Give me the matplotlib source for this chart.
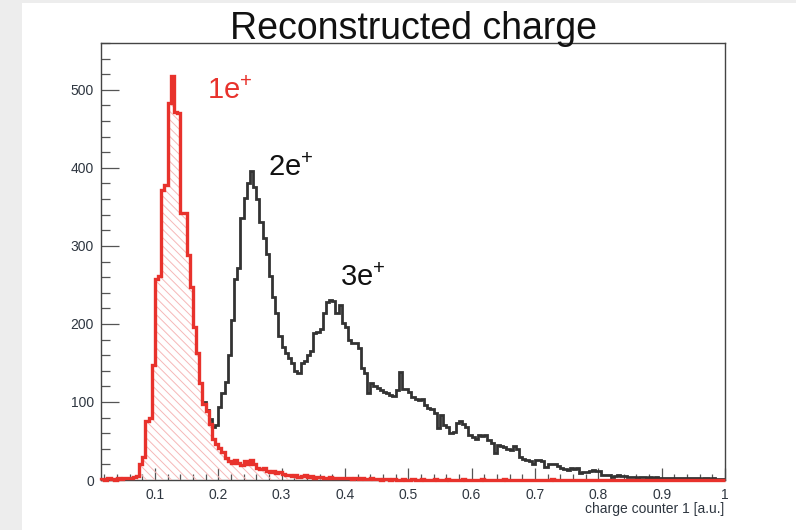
import numpy as np
import matplotlib
matplotlib.use("Agg")
import matplotlib.pyplot as plt
from matplotlib.patches import Rectangle
from matplotlib.ticker import FixedLocator, MultipleLocator

plt.rcParams['font.family'] = ['Liberation Sans', 'DejaVu Sans']
plt.rcParams['mathtext.fontset'] = 'custom'
plt.rcParams['mathtext.rm'] = 'Liberation Sans'
plt.rcParams['mathtext.it'] = 'Liberation Sans:italic'
plt.rcParams['hatch.linewidth'] = 0.7

# ---------------- data ----------------
bin_start = 0.015
bin_width = 0.005

# 1e+ sample (red, hatched)
red_counts = [
    1, 0, 2, 1, 0, 2, 1, 3, 2, 3, 4,
    5, 20, 30, 75, 80, 147, 258, 262, 372, 378,
    483, 518, 472, 470, 342, 342, 288, 247, 196, 163, 124,
    98, 88, 72, 52, 46, 41, 36, 28, 24, 22,
    26, 22, 19, 24, 21, 25, 20, 15, 14, 15,
    12, 10, 11, 9, 10, 8, 7, 6, 5, 6,
    4, 5, 6, 4, 5, 3, 4, 4, 3, 3,
    4, 2, 3, 2, 3, 2,
    2, 1, 2, 1, 2, 1, 1, 2, 1,
    1, 0, 1, 1, 0, 1, 0, 0, 1, 0,
    0, 1, 0, 0, 1, 0, 0, 0, 1, 0,
    0, 0, 1, 0, 0, 0, 0, 1, 0, 0,
    0, 0, 0, 1, 0, 0, 0, 0, 0, 0,
    1, 0, 0, 0, 0, 0, 0, 0, 0, 0,
    0, 0, 0, 0, 0, 1, 0, 0, 0, 0,
    0, 0, 0, 0, 0, 0, 0, 0, 0, 0,
    0, 0, 0, 0, 0, 0, 0, 0, 0, 0,
    0, 0, 0, 0, 0, 0, 0, 0, 0, 0,
    0, 0, 0, 0, 0, 0, 0, 0, 0, 0,
    0, 0, 0, 0, 0, 0, 0, 0, 0, 0,
]

# all events (black)
black_counts = [
    1, 0, 2, 1, 0, 2, 1, 3, 2, 3, 4,
    5, 20, 30, 75, 80, 147, 258, 262, 372, 378,
    483, 518, 472, 470, 342, 342, 288, 247, 196, 163, 124,
    100, 90, 78, 68, 70, 94, 112, 125, 160, 205,
    258, 272, 336, 362, 380, 396, 376, 360, 330, 310,
    290, 262, 235, 214, 185, 171, 163, 156, 150, 140,
    137, 150, 152, 160, 165, 188, 190, 194, 214, 228,
    231, 230, 214, 224, 201, 196, 179, 176, 175, 169,
    144, 137, 112, 124, 120, 118, 115, 113, 112, 109,
    108, 115, 138, 117, 117, 113, 106, 104, 103, 104,
    96, 92, 91, 86, 66, 83, 70, 68, 60, 62,
    73, 75, 72, 68, 58, 55, 53, 58, 57, 58,
    51, 48, 35, 45, 44, 42, 40, 38, 44, 40,
    29, 27, 26, 24, 21, 26, 26, 24, 17, 20,
    21, 20, 18, 15, 14, 13, 16, 14, 15, 9,
    10, 10, 11, 13, 12, 11, 7, 6, 6, 4,
    5, 6, 5, 5, 4, 4, 4, 3, 4, 4,
    3, 4, 3, 4, 3, 3, 3, 2, 3, 2,
    3, 2, 2, 3, 2, 2, 2, 1, 2, 2,
    1, 2, 1, 1, 1,
]

x_ticks = [0.1, 0.2, 0.3, 0.4, 0.5, 0.6, 0.7, 0.8, 0.9, 1.0]
x_tick_labels = ['0.1', '0.2', '0.3', '0.4', '0.5', '0.6', '0.7', '0.8', '0.9', '1']
y_ticks = [0, 100, 200, 300, 400, 500]
y_tick_labels = ['0', '100', '200', '300', '400', '500']

title = 'Reconstructed charge'
x_label = 'charge counter 1 [a.u.]'
peak_labels = ['1e$^{+}$', '2e$^{+}$', '3e$^{+}$']
peak_label_pos = [(0.182, 488), (0.279, 390), (0.393, 248)]
peak_label_colors = ['#e8322c', '#111111', '#111111']

# ---------------- figure ----------------
W, H = 796, 530
fig = plt.figure(figsize=(W / 100, H / 100), dpi=100)
fig.patch.set_facecolor('white')
fig.patches.append(Rectangle((0, 0), 22 / W, 1, transform=fig.transFigure,
                             facecolor='#ededed', edgecolor='none', zorder=0))
fig.patches.append(Rectangle((0, 1 - 3 / H), 1, 3 / H, transform=fig.transFigure,
                             facecolor='#ededed', edgecolor='none', zorder=0))

ax = fig.add_axes([101 / W, 50 / H, 624 / W, 437 / H])
edges = np.round(bin_start + bin_width * np.arange(len(red_counts) + 1), 4)

ax.stairs(black_counts, edges, color='#333333', lw=2.0, zorder=2)
ax.stairs(red_counts, edges, fill=True, facecolor='none', edgecolor='#f6b8b8',
          hatch='\\\\\\\\', lw=0, zorder=3)
ax.stairs(red_counts, edges, color='#e8322c', lw=2.4, zorder=4, clip_on=False)

ax.set_xlim(0.015, 1.0)
ax.set_ylim(0, 560)

ax.xaxis.set_major_locator(FixedLocator(x_ticks))
ax.set_xticklabels(x_tick_labels)
ax.xaxis.set_minor_locator(MultipleLocator(0.02))
ax.yaxis.set_major_locator(FixedLocator(y_ticks))
ax.set_yticklabels(y_tick_labels)
ax.yaxis.set_minor_locator(MultipleLocator(20))

lab_col = '#2e3640'
ax.tick_params(axis='both', which='both', direction='in', top=False, right=False,
               color='#555555', width=0.9, labelcolor=lab_col)
ax.tick_params(axis='x', which='major', length=8.5, labelsize=10, pad=6)
ax.tick_params(axis='x', which='minor', length=4.5)
ax.tick_params(axis='y', which='major', length=13, labelsize=10, pad=5)
ax.tick_params(axis='y', which='minor', length=6.5)

for s in ax.spines.values():
    s.set_color('#444444')
    s.set_linewidth(1.0)

fig.text(413 / W, 1 - 29 / H, title, ha='center', va='center', fontsize=27, color='#111111')
fig.text(724 / W, 1 - 509 / H, x_label, ha='right', va='center', fontsize=10, color=lab_col)

for txt, (px, py), c in zip(peak_labels, peak_label_pos, peak_label_colors):
    ax.text(px, py, txt, ha='left', va='baseline', fontsize=21, color=c, zorder=6)

fig.savefig('out.png', dpi=100, facecolor=fig.get_facecolor())
